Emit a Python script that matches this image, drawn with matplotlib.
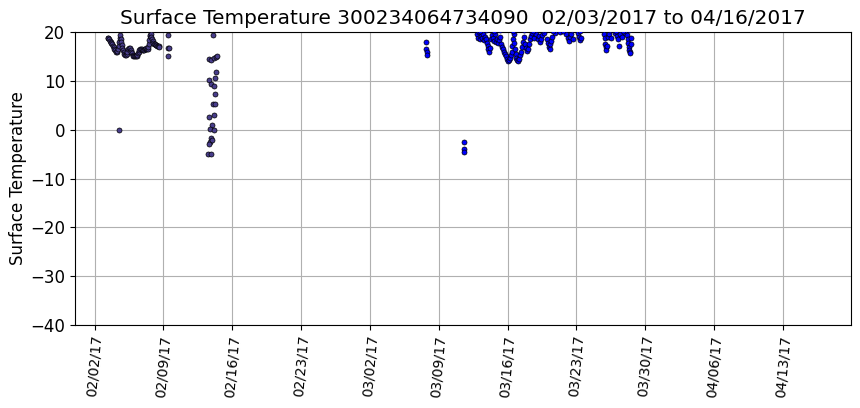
import matplotlib
matplotlib.use("Agg")
import matplotlib.pyplot as plt
import matplotlib.dates as mdates
import numpy as np
import datetime as dt

# ---- data (days after 2017-02-02 00:00, surface temperature) ----
base_date = "2017-02-02"

early_days = [1.33, 1.40, 1.48, 1.55, 1.63, 1.71, 1.79, 1.86, 1.94, 2.01, 2.09, 2.16,
              2.24, 2.32, 2.40, 2.45, 2.50, 2.55, 2.60, 2.65, 2.70, 2.75, 2.81, 2.88,
              2.96, 3.03, 3.11, 3.19, 3.27, 3.34, 3.42, 3.50, 3.57, 3.65, 3.72, 3.80,
              3.88, 3.95, 4.03, 4.11, 4.18, 4.26, 4.34, 4.41, 4.49, 4.56, 4.64, 4.72,
              4.80, 4.87, 4.95, 5.03, 5.10, 5.18, 5.26, 5.33, 5.41, 5.46, 5.51, 5.56,
              5.61, 5.66, 5.71, 5.77, 5.82, 5.90, 5.97, 6.05, 6.12, 6.20, 6.28, 6.35,
              6.43, 6.50, 6.58,
              2.45,
              7.45, 7.45, 7.55, 7.45,
              12.04, 11.63, 11.84, 12.14, 12.35, 12.45, 12.35, 12.24, 11.63, 11.84,
              12.14, 12.24, 12.04, 12.24, 11.63, 12.14, 11.94, 11.73, 12.14, 11.84,
              11.73, 11.94, 11.63, 11.53, 11.84]
early_temp = [18.8, 18.7, 18.5, 18.2, 18.0, 17.8, 17.5, 17.2, 17.0, 16.6, 16.3, 16.0,
              15.8, 16.1, 16.5, 17.2, 18.0, 18.8, 19.3, 18.6, 18.0, 17.4, 16.8, 16.3,
              15.8, 15.5, 15.2, 15.3, 15.5, 16.0, 16.5, 16.7, 16.8, 16.4, 16.0, 15.6,
              15.3, 15.1, 15.0, 15.0, 15.0, 15.1, 15.3, 15.6, 16.0, 16.3, 16.5, 16.5,
              16.5, 16.4, 16.3, 16.4, 16.5, 16.6, 16.7, 16.6, 16.5, 17.0, 17.5, 18.4,
              19.2, 19.4, 19.5, 19.0, 18.5, 18.1, 17.8, 17.6, 17.5, 17.4, 17.3, 17.2,
              17.2, 17.1, 17.0,
              0.0,
              19.4, 16.7, 16.7, 15.0,
              19.4, 14.5, 14.3, 14.6, 14.9, 15.0, 11.8, 10.6, 10.2, 9.3,
              9.0, 7.3, 5.2, 5.2, 2.6, 3.0, 1.0, 0.1, -0.1, -1.7,
              -2.5, -2.2, -3.0, -5.0, -5.0]

late_days = [33.70, 33.72, 33.75, 33.75,
             37.55, 37.55, 37.60,
             38.9, 39.0, 39.1, 39.2, 39.3, 39.4, 39.5, 39.6, 39.7, 39.8, 39.9, 40.0,
             40.05, 40.1, 40.2, 40.3, 40.4, 40.5, 40.6, 40.7, 40.8, 40.9, 41.0, 41.1,
             41.2, 41.3, 41.4, 41.5, 41.6, 41.7, 41.8, 41.9, 42.0, 42.1, 42.2, 42.3,
             42.4, 42.45, 42.5, 42.6, 42.65, 42.7, 42.8, 42.9, 43.0, 43.1, 43.2, 43.3,
             43.4, 43.5, 43.6, 43.7, 43.8, 43.9, 44.0, 44.1, 44.2, 44.3, 44.4, 44.5,
             44.7, 44.9, 45.1, 45.2, 45.3, 45.4, 45.5, 45.7, 46.0, 46.1, 46.2, 46.3,
             46.35, 46.4, 46.5, 46.8, 47.3, 47.9, 48.1, 48.2, 48.3, 48.4, 48.6, 49.2,
             49.3, 49.4, 49.5,
             51.8, 51.9, 51.95, 52.0, 52.05, 52.1, 52.2, 52.3, 52.5, 52.9, 53.1, 53.2,
             53.3, 53.4, 53.6, 53.9, 54.1, 54.2, 54.25, 54.3, 54.35, 54.4, 54.45, 54.5,
             54.55,
             39.15, 39.8, 40.6, 41.2, 42.5, 43.7, 44.6, 45.6, 46.6, 47.6, 48.5, 49.4,
             52.4, 53.0, 53.7, 54.3]
late_temp = [18.0, 16.6, 15.8, 15.2,
             -2.5, -4.0, -4.6,
             19.5, 18.8, 19.9, 18.5, 19.2, 18.8, 19.6, 18.3, 19.0, 18.6, 17.8, 17.2,
             16.5, 16.0, 16.8, 18.5, 19.3, 18.7, 18.2, 19.5, 18.0, 18.5, 17.8, 18.3,
             19.0, 17.5, 17.0, 16.5, 16.0, 15.5, 15.0, 14.5, 14.0, 14.2, 14.6, 15.3,
             16.0, 17.2, 18.5, 19.6, 17.8, 16.5, 15.5, 14.7, 14.2, 14.0, 14.5, 15.2,
             16.0, 17.0, 18.0, 19.0, 17.5, 16.8, 16.2, 16.5, 17.5, 18.5, 19.2, 19.8,
             18.8, 19.5, 18.5, 19.2, 18.0, 18.6, 19.4, 19.8, 18.5, 17.8, 17.0, 16.5,
             17.5, 18.2, 19.0, 19.7, 19.9, 19.5, 18.8, 18.2, 19.0, 19.6, 18.6, 19.8,
             19.0, 18.4, 18.8,
             19.5, 18.8, 17.6, 17.0, 16.3, 17.2, 19.0, 19.6, 18.8, 19.8, 19.2, 18.6,
             17.2, 19.5, 19.0, 19.8, 19.3, 18.5, 17.8, 17.0, 16.4, 16.0, 15.6, 17.5,
             18.8,
             20.3, 20.4, 20.2, 20.5, 20.3, 20.4, 20.2, 20.4, 20.3, 20.2, 20.5, 20.3,
             20.4, 20.2, 20.3, 20.4]

title_text = "Surface Temperature 300234064734090  02/03/2017 to 04/16/2017"
y_label = "Surface Temperature"
x_start = "2017-01-31T00:00"
x_end = "2017-04-19T22:00"
y_ticks = [20, 10, 0, -10, -20, -30, -40]

# ---- plotting ----
def to_dates(days):
    return [dt.datetime.fromisoformat(base_date) + dt.timedelta(days=d) for d in days]

fig = plt.figure(figsize=(8.6, 4.08), dpi=100)
ax = fig.add_axes([0.0872, 0.2034, 0.9023, 0.7182])

ax.scatter(to_dates(early_days), early_temp, s=13, c="#483D8B",
           edgecolors="black", linewidths=0.5, zorder=3)
ax.scatter(to_dates(late_days), late_temp, s=13, c="blue",
           edgecolors="black", linewidths=0.5, zorder=3)

ax.set_xlim(dt.datetime.fromisoformat(x_start), dt.datetime.fromisoformat(x_end))
ax.set_ylim(-40, 20)
ax.set_yticks(y_ticks)
ax.xaxis.set_major_locator(mdates.WeekdayLocator(byweekday=mdates.TH))
ax.xaxis.set_major_formatter(mdates.DateFormatter("%m/%d/%y"))
ax.tick_params(axis="x", labelsize=10, labelrotation=85)
ax.tick_params(axis="y", labelsize=12)
ax.grid(True, color="#b0b0b0", linewidth=0.8, zorder=0)
ax.set_axisbelow(True)
ax.set_ylabel(y_label, fontsize=12, labelpad=2.5)
ax.set_title(title_text, fontsize=14.4)

fig.savefig("out.png", dpi=100)
